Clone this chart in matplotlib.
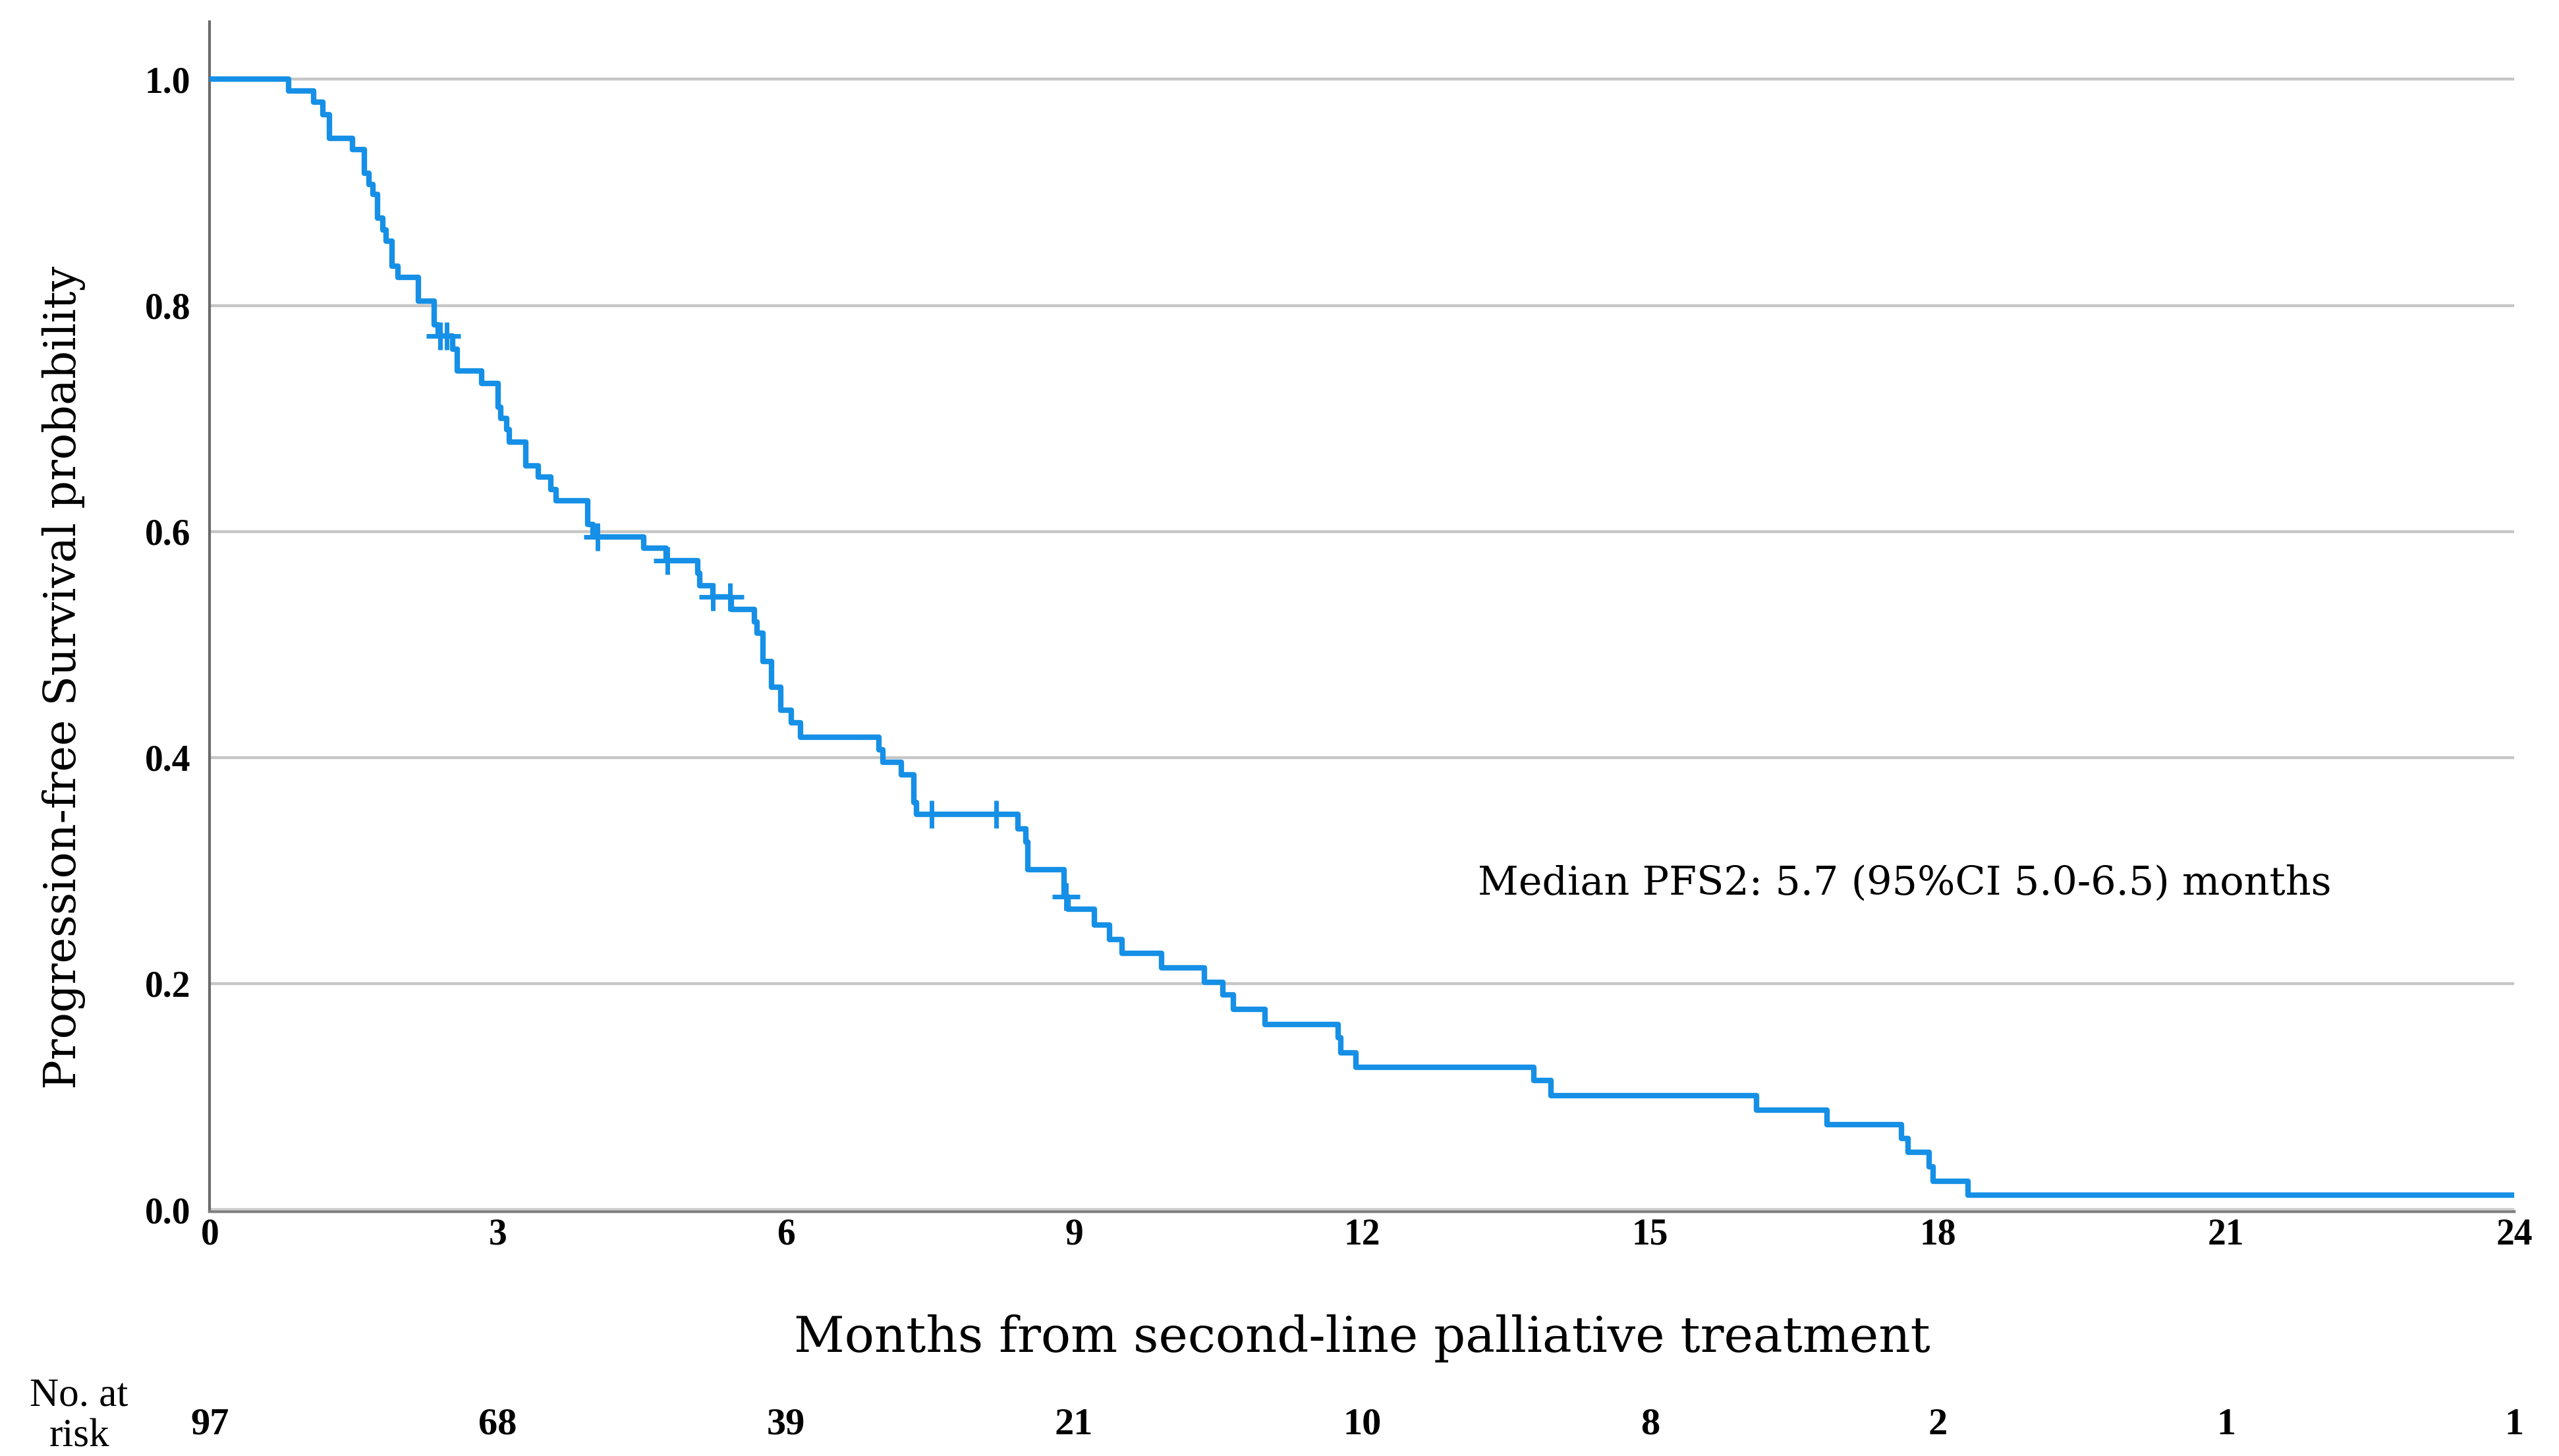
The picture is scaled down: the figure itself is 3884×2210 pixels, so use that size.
import numpy as np
import matplotlib
matplotlib.use("Agg")
import matplotlib.pyplot as plt
import matplotlib.transforms as mtransforms

# Kaplan-Meier steps: (month, survival after the step)
times = [0.0, 0.82, 1.08, 1.18, 1.25, 1.49, 1.61, 1.66, 1.70, 1.75, 1.80, 1.84,
         1.90, 1.96, 2.17, 2.34, 2.38, 2.53, 2.58, 2.83, 3.00, 3.03, 3.09, 3.12,
         3.29, 3.42, 3.55, 3.61, 3.94, 3.99, 4.52, 4.75, 5.08, 5.10, 5.24, 5.43,
         5.67, 5.70, 5.76, 5.85, 5.95, 6.06, 6.15, 6.97, 7.01, 7.20, 7.33, 7.36,
         8.42, 8.50, 8.52, 8.90, 8.94, 9.21, 9.37, 9.50, 9.91, 10.36, 10.55,
         10.66, 10.99, 11.75, 11.78, 11.94, 13.79, 13.97, 16.11, 16.84, 17.62,
         17.69, 17.91, 17.95, 18.31]
surv = [1.000, 0.990, 0.980, 0.969, 0.948, 0.938, 0.917, 0.907, 0.898, 0.877,
        0.867, 0.857, 0.835, 0.825, 0.804, 0.783, 0.773, 0.761, 0.742, 0.731,
        0.710, 0.700, 0.690, 0.679, 0.658, 0.648, 0.637, 0.627, 0.606, 0.595,
        0.585, 0.574, 0.563, 0.552, 0.542, 0.531, 0.520, 0.510, 0.485, 0.462,
        0.442, 0.431, 0.418, 0.407, 0.396, 0.385, 0.360, 0.350, 0.337, 0.325,
        0.301, 0.277, 0.266, 0.252, 0.239, 0.227, 0.214, 0.201, 0.190, 0.177,
        0.164, 0.152, 0.139, 0.126, 0.114, 0.101, 0.088, 0.075, 0.063, 0.051,
        0.038, 0.025, 0.013]
t_end = 24.0
censored = [2.40, 2.47, 4.04, 4.77, 5.24, 5.42, 7.52, 8.19, 8.92]

xticks = [0, 3, 6, 9, 12, 15, 18, 21, 24]
at_risk = [97, 68, 39, 21, 10, 8, 2, 1, 1]
yticks = [0.0, 0.2, 0.4, 0.6, 0.8, 1.0]

blue = "#1690e6"
serif = ["DejaVu Serif"]
bold_serif = dict(fontfamily="Liberation Serif", fontweight="bold")

fig = plt.figure(figsize=(38.84, 22.10), dpi=100)
ax = fig.add_axes([0.08195, 0.16923, 0.90054, 0.81584])

# spines first: moving a spine resets the tick labels
for s in ["top", "right"]:
    ax.spines[s].set_visible(False)
ax.spines["left"].set_color("#6a6a6a")
ax.spines["left"].set_linewidth(3)
ax.spines["bottom"].set_color("#808080")
ax.spines["bottom"].set_linewidth(3.2)
ax.spines["bottom"].set_position(("outward", 2.2))

for y in yticks:
    ax.axhline(y, color="#c6c6c6", lw=3.2, zorder=1)

t_all = np.append(times, t_end)
s_all = np.append(surv, surv[-1])
ax.step(t_all, s_all, where="post", color=blue, lw=6, zorder=3)

# censor marks sit on the curve
idx = np.searchsorted(times, censored, side="right") - 1
cs = np.array(surv)[idx]
ax.plot(censored, cs, linestyle="none", marker="+", color=blue,
        markersize=30, mew=5, zorder=4)

ax.set_xlim(0, 24)
ax.set_ylim(0, 1.051)
ax.set_xticks(xticks)
ax.set_yticks(yticks)
ax.set_xticklabels([str(x) for x in xticks], fontsize=40, **bold_serif)
ax.set_yticklabels(["%.1f" % y for y in yticks], fontsize=40, **bold_serif)
ax.tick_params(axis="x", length=0, pad=7)
ax.tick_params(axis="y", length=0, pad=21)

ax.set_ylabel("Progression-free Survival probability", fontfamily=serif,
              fontsize=48)
ax.yaxis.set_label_coords(-0.0538, 0.448)
ax.set_xlabel("Months from second-line palliative treatment", fontfamily=serif,
              fontsize=54)
ax.xaxis.set_label_coords(0.5, -0.088)

ax.text(13.21, 0.289, "Median PFS2: 5.7 (95%CI 5.0-6.5) months",
        fontfamily=serif, fontsize=43.5, ha="left", va="center")

# number at risk row
trans = mtransforms.blended_transform_factory(ax.transData, fig.transFigure)
for x, n in zip(xticks, at_risk):
    ax.text(x, 0.0150, str(n), transform=trans, ha="center", va="baseline",
            fontsize=42, clip_on=False, **bold_serif)
fig.text(0.0308, 0.0345, "No. at", ha="center", va="baseline",
         fontfamily="Liberation Serif", fontsize=44)
fig.text(0.0311, 0.0065, "risk", ha="center", va="baseline",
         fontfamily="Liberation Serif", fontsize=44)

fig.savefig("out.png", dpi=100)
